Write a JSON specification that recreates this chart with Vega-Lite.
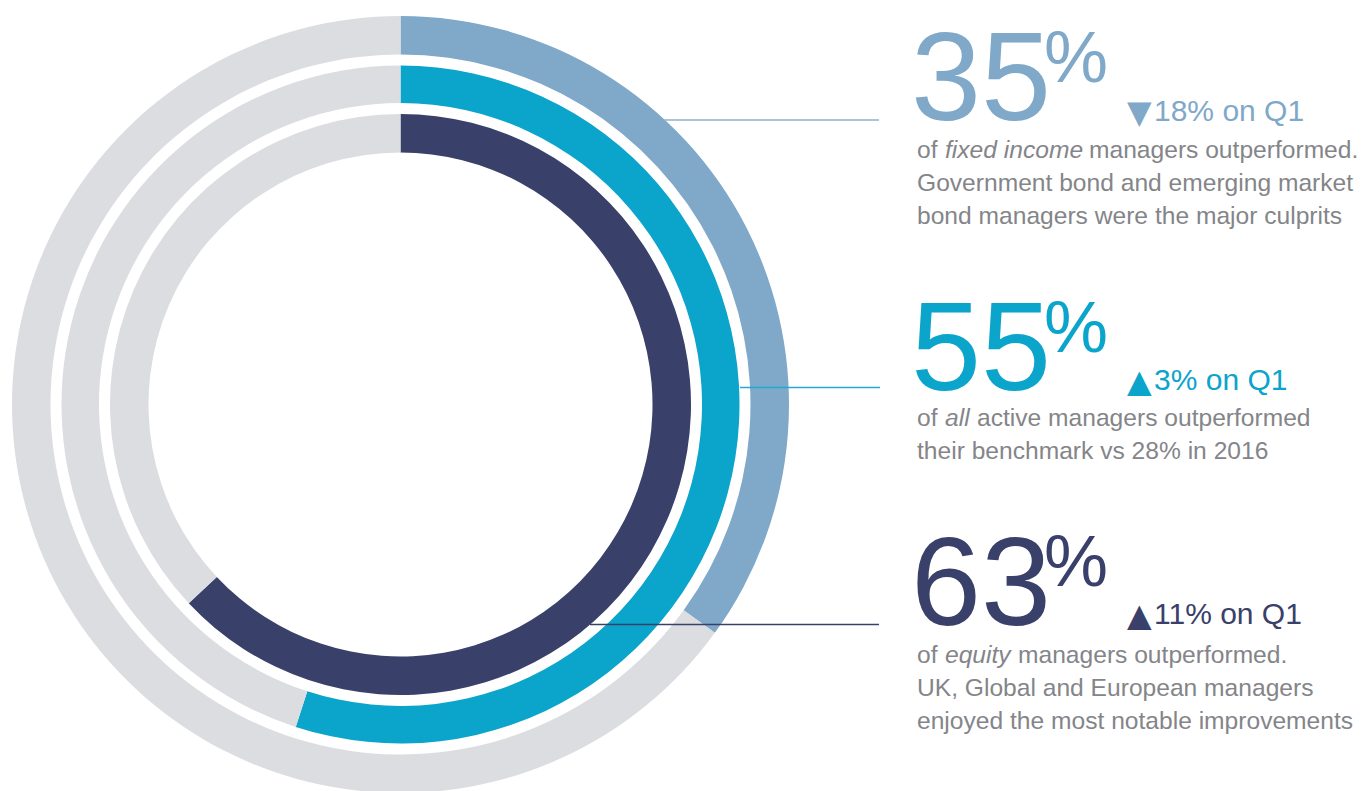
{
  "$schema": "https://vega.github.io/schema/vega-lite/v6.json",
  "width": 1362,
  "height": 791,
  "autosize": {"type": "none"},
  "padding": 0,
  "background": "#ffffff",
  "view": {"stroke": null},
  "config": {"text": {"font": "Liberation Sans"}},
  "data": {
    "values": [
      {"ring": "Fixed income", "part": "Fixed income", "value": 35, "seq": 1},
      {"ring": "Fixed income", "part": "Remaining", "value": 65, "seq": 2},
      {"ring": "All active", "part": "All active", "value": 55, "seq": 1},
      {"ring": "All active", "part": "Remaining", "value": 45, "seq": 2},
      {"ring": "Equity", "part": "Equity", "value": 63, "seq": 1},
      {"ring": "Equity", "part": "Remaining", "value": 37, "seq": 2}
    ]
  },
  "layer": [
    {
      "transform": [{"filter": "datum.ring === 'Fixed income'"}],
      "mark": {"type": "arc", "radius": 388.5, "radius2": 350},
      "encoding": {
        "theta": {"field": "value", "type": "quantitative", "stack": true},
        "order": {"field": "seq", "type": "quantitative"},
        "color": {"field": "part", "type": "nominal", "legend": null, "scale": {"domain": ["Fixed income", "All active", "Equity", "Remaining"], "range": ["#7fa8c9", "#0ba4cb", "#39406a", "#dcdde0"]}},
        "x": {"datum": 400.5, "type": "quantitative", "scale": {"domain": [0, 1362], "nice": false, "zero": false}, "axis": null},
        "y": {"datum": 404.5, "type": "quantitative", "scale": {"domain": [0, 791], "nice": false, "zero": false, "reverse": true}, "axis": null}
      }
    },
    {
      "transform": [{"filter": "datum.ring === 'All active'"}],
      "mark": {"type": "arc", "radius": 339, "radius2": 301.5},
      "encoding": {
        "theta": {"field": "value", "type": "quantitative", "stack": true},
        "order": {"field": "seq", "type": "quantitative"},
        "color": {"field": "part", "type": "nominal", "legend": null},
        "x": {"datum": 400.5, "type": "quantitative"},
        "y": {"datum": 404.5, "type": "quantitative"}
      }
    },
    {
      "transform": [{"filter": "datum.ring === 'Equity'"}],
      "mark": {"type": "arc", "radius": 290.5, "radius2": 252},
      "encoding": {
        "theta": {"field": "value", "type": "quantitative", "stack": true},
        "order": {"field": "seq", "type": "quantitative"},
        "color": {"field": "part", "type": "nominal", "legend": null},
        "x": {"datum": 400.5, "type": "quantitative"},
        "y": {"datum": 404.5, "type": "quantitative"}
      }
    },
    {
      "data": {"values": [{"ring": "Fixed income"}]},
      "mark": {"type": "rule", "color": "#8db2d1", "strokeWidth": 1.5},
      "encoding": {"x": {"datum": 664, "type": "quantitative"}, "x2": {"datum": 879}, "y": {"datum": 120, "type": "quantitative"}}
    },
    {
      "data": {"values": [{"ring": "All active"}]},
      "mark": {"type": "rule", "color": "#22aad0", "strokeWidth": 1.5},
      "encoding": {"x": {"datum": 740, "type": "quantitative"}, "x2": {"datum": 880}, "y": {"datum": 387.5, "type": "quantitative"}}
    },
    {
      "data": {"values": [{"ring": "Equity"}]},
      "mark": {"type": "rule", "color": "#39406a", "strokeWidth": 1.5},
      "encoding": {"x": {"datum": 590, "type": "quantitative"}, "x2": {"datum": 879}, "y": {"datum": 624.5, "type": "quantitative"}}
    },

    {"data": {"values": [{"t": "35"}]}, "mark": {"type": "text", "fontSize": 126, "align": "left", "baseline": "alphabetic", "color": "#7fa8c9"},
     "encoding": {"text": {"field": "t"}, "x": {"datum": 911, "type": "quantitative"}, "y": {"datum": 120, "type": "quantitative"}}},
    {"data": {"values": [{"t": "%"}]}, "mark": {"type": "text", "fontSize": 72, "align": "left", "baseline": "alphabetic", "color": "#7fa8c9"},
     "encoding": {"text": {"field": "t"}, "x": {"datum": 1044, "type": "quantitative"}, "y": {"datum": 82, "type": "quantitative"}}},
    {"data": {"values": [{"t": "▼"}]}, "mark": {"type": "text", "font": "DejaVu Sans", "fontSize": 32, "align": "left", "baseline": "alphabetic", "color": "#7fa8c9"},
     "encoding": {"text": {"field": "t"}, "x": {"datum": 1127, "type": "quantitative"}, "y": {"datum": 123, "type": "quantitative"}}},
    {"data": {"values": [{"t": "18% on Q1"}]}, "mark": {"type": "text", "fontSize": 30, "align": "left", "baseline": "alphabetic", "color": "#7fa8c9"},
     "encoding": {"text": {"field": "t"}, "x": {"datum": 1154, "type": "quantitative"}, "y": {"datum": 121, "type": "quantitative"}}},
    {"data": {"values": [{"t": "of"}]}, "mark": {"type": "text", "fontSize": 24.6, "align": "left", "baseline": "alphabetic", "color": "#848589"},
     "encoding": {"text": {"field": "t"}, "x": {"datum": 917, "type": "quantitative"}, "y": {"datum": 158, "type": "quantitative"}}},
    {"data": {"values": [{"t": "fixed income"}]}, "mark": {"type": "text", "fontSize": 24.6, "fontStyle": "italic", "align": "left", "baseline": "alphabetic", "color": "#848589"},
     "encoding": {"text": {"field": "t"}, "x": {"datum": 945, "type": "quantitative"}, "y": {"datum": 158, "type": "quantitative"}}},
    {"data": {"values": [{"t": "managers outperformed."}]}, "mark": {"type": "text", "fontSize": 24.6, "align": "left", "baseline": "alphabetic", "color": "#848589"},
     "encoding": {"text": {"field": "t"}, "x": {"datum": 1089, "type": "quantitative"}, "y": {"datum": 158, "type": "quantitative"}}},
    {"data": {"values": [{"t": ["Government bond and emerging market", "bond managers were the major culprits"]}]}, "mark": {"type": "text", "fontSize": 24.6, "lineHeight": 33, "align": "left", "baseline": "alphabetic", "color": "#848589"},
     "encoding": {"text": {"field": "t"}, "x": {"datum": 917, "type": "quantitative"}, "y": {"datum": 191, "type": "quantitative"}}},

    {"data": {"values": [{"t": "55"}]}, "mark": {"type": "text", "fontSize": 126, "align": "left", "baseline": "alphabetic", "color": "#0ba4cb"},
     "encoding": {"text": {"field": "t"}, "x": {"datum": 911, "type": "quantitative"}, "y": {"datum": 390, "type": "quantitative"}}},
    {"data": {"values": [{"t": "%"}]}, "mark": {"type": "text", "fontSize": 72, "align": "left", "baseline": "alphabetic", "color": "#0ba4cb"},
     "encoding": {"text": {"field": "t"}, "x": {"datum": 1044, "type": "quantitative"}, "y": {"datum": 352, "type": "quantitative"}}},
    {"data": {"values": [{"t": "▲"}]}, "mark": {"type": "text", "font": "DejaVu Sans", "fontSize": 32, "align": "left", "baseline": "alphabetic", "color": "#0ba4cb"},
     "encoding": {"text": {"field": "t"}, "x": {"datum": 1127, "type": "quantitative"}, "y": {"datum": 392, "type": "quantitative"}}},
    {"data": {"values": [{"t": "3% on Q1"}]}, "mark": {"type": "text", "fontSize": 30, "align": "left", "baseline": "alphabetic", "color": "#0ba4cb"},
     "encoding": {"text": {"field": "t"}, "x": {"datum": 1154, "type": "quantitative"}, "y": {"datum": 390, "type": "quantitative"}}},
    {"data": {"values": [{"t": "of"}]}, "mark": {"type": "text", "fontSize": 24.6, "align": "left", "baseline": "alphabetic", "color": "#848589"},
     "encoding": {"text": {"field": "t"}, "x": {"datum": 917, "type": "quantitative"}, "y": {"datum": 426, "type": "quantitative"}}},
    {"data": {"values": [{"t": "all"}]}, "mark": {"type": "text", "fontSize": 24.6, "fontStyle": "italic", "align": "left", "baseline": "alphabetic", "color": "#848589"},
     "encoding": {"text": {"field": "t"}, "x": {"datum": 945, "type": "quantitative"}, "y": {"datum": 426, "type": "quantitative"}}},
    {"data": {"values": [{"t": "active managers outperformed"}]}, "mark": {"type": "text", "fontSize": 24.6, "align": "left", "baseline": "alphabetic", "color": "#848589"},
     "encoding": {"text": {"field": "t"}, "x": {"datum": 977, "type": "quantitative"}, "y": {"datum": 426, "type": "quantitative"}}},
    {"data": {"values": [{"t": "their benchmark vs 28% in 2016"}]}, "mark": {"type": "text", "fontSize": 24.6, "align": "left", "baseline": "alphabetic", "color": "#848589"},
     "encoding": {"text": {"field": "t"}, "x": {"datum": 917, "type": "quantitative"}, "y": {"datum": 459, "type": "quantitative"}}},

    {"data": {"values": [{"t": "63"}]}, "mark": {"type": "text", "fontSize": 126, "align": "left", "baseline": "alphabetic", "color": "#39406a"},
     "encoding": {"text": {"field": "t"}, "x": {"datum": 911, "type": "quantitative"}, "y": {"datum": 625, "type": "quantitative"}}},
    {"data": {"values": [{"t": "%"}]}, "mark": {"type": "text", "fontSize": 72, "align": "left", "baseline": "alphabetic", "color": "#39406a"},
     "encoding": {"text": {"field": "t"}, "x": {"datum": 1044, "type": "quantitative"}, "y": {"datum": 586, "type": "quantitative"}}},
    {"data": {"values": [{"t": "▲"}]}, "mark": {"type": "text", "font": "DejaVu Sans", "fontSize": 32, "align": "left", "baseline": "alphabetic", "color": "#39406a"},
     "encoding": {"text": {"field": "t"}, "x": {"datum": 1127, "type": "quantitative"}, "y": {"datum": 626, "type": "quantitative"}}},
    {"data": {"values": [{"t": "11% on Q1"}]}, "mark": {"type": "text", "fontSize": 30, "align": "left", "baseline": "alphabetic", "color": "#39406a"},
     "encoding": {"text": {"field": "t"}, "x": {"datum": 1154, "type": "quantitative"}, "y": {"datum": 624, "type": "quantitative"}}},
    {"data": {"values": [{"t": "of"}]}, "mark": {"type": "text", "fontSize": 24.6, "align": "left", "baseline": "alphabetic", "color": "#848589"},
     "encoding": {"text": {"field": "t"}, "x": {"datum": 917, "type": "quantitative"}, "y": {"datum": 663, "type": "quantitative"}}},
    {"data": {"values": [{"t": "equity"}]}, "mark": {"type": "text", "fontSize": 24.6, "fontStyle": "italic", "align": "left", "baseline": "alphabetic", "color": "#848589"},
     "encoding": {"text": {"field": "t"}, "x": {"datum": 945, "type": "quantitative"}, "y": {"datum": 663, "type": "quantitative"}}},
    {"data": {"values": [{"t": "managers outperformed."}]}, "mark": {"type": "text", "fontSize": 24.6, "align": "left", "baseline": "alphabetic", "color": "#848589"},
     "encoding": {"text": {"field": "t"}, "x": {"datum": 1018, "type": "quantitative"}, "y": {"datum": 663, "type": "quantitative"}}},
    {"data": {"values": [{"t": ["UK, Global and European managers", "enjoyed the most notable improvements"]}]}, "mark": {"type": "text", "fontSize": 24.6, "lineHeight": 33, "align": "left", "baseline": "alphabetic", "color": "#848589"},
     "encoding": {"text": {"field": "t"}, "x": {"datum": 917, "type": "quantitative"}, "y": {"datum": 696, "type": "quantitative"}}}
  ]
}
